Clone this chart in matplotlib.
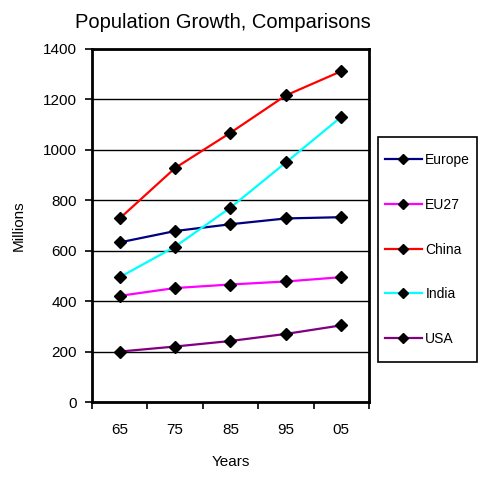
import matplotlib
matplotlib.use('Agg')
import matplotlib.pyplot as plt
from matplotlib.patches import Rectangle
from matplotlib.ticker import FixedLocator, NullFormatter

plt.rcParams['font.family'] = ['Liberation Sans', 'DejaVu Sans']

# values (millions)
years = ['65', '75', '85', '95', '05']
europe = [633, 678, 705, 728, 733]
eu27 = [421, 452, 466, 478, 495]
china = [728, 928, 1068, 1216, 1312]
india = [495, 616, 771, 950, 1131]
usa = [200, 220, 242, 270, 304]

series = [('Europe', europe, '#000080'),
          ('EU27', eu27, '#FF00FF'),
          ('China', china, '#FF0000'),
          ('India', india, '#00FFFF'),
          ('USA', usa, '#800080')]

fig = plt.figure(figsize=(4.91, 4.80), dpi=100)
ax = fig.add_axes([92/491, 1 - 402/480, 277/491, 353/480])

x = range(len(years))
for name, vals, col in series:
    ax.plot(x, vals, color=col, lw=1.6, marker='D', ms=6,
            mfc='black', mec='black', label=name)

ax.set_xlim(-0.5, len(years) - 0.5)
ax.set_ylim(0, 1400)
ax.set_yticks(range(0, 1401, 200))
ax.yaxis.grid(True, color='black', lw=1)
ax.set_axisbelow(True)

# tick marks on category boundaries, labels in the middle
ax.xaxis.set_major_locator(FixedLocator([i - 0.5 for i in range(len(years) + 1)]))
ax.xaxis.set_major_formatter(NullFormatter())
ax.xaxis.set_minor_locator(FixedLocator(list(x)))
ax.set_xticklabels(years, minor=True)
ax.tick_params(axis='x', which='minor', length=0, pad=15, labelsize=11)
ax.tick_params(axis='x', which='major', length=5, width=1.2, direction='out')
ax.tick_params(axis='y', length=5, width=1.2, pad=6, labelsize=11)

for sp in ax.spines.values():
    sp.set_linewidth(2)
    sp.set_color('black')

ax.set_xlabel('Years', fontsize=11, labelpad=13)
ax.set_ylabel('Millions', fontsize=11, labelpad=12)

fig.text(223/491, 1 - 22/480, 'Population Growth, Comparisons',
         ha='center', va='center', fontsize=14.5)

# legend box drawn separately so the padding matches
box = (378/491, 1 - 362/480, 99/491, 225/480)
fig.patches.append(Rectangle(box[:2], box[2], box[3], transform=fig.transFigure,
                             fill=False, ec='black', lw=1.2))
fig.legend(loc='center', bbox_to_anchor=box, frameon=False, fontsize=10,
           labelspacing=2.22, handlelength=2.66, handletextpad=0.25,
           borderaxespad=0, borderpad=0, markerscale=0.9)

fig.savefig('out.png', dpi=100)
